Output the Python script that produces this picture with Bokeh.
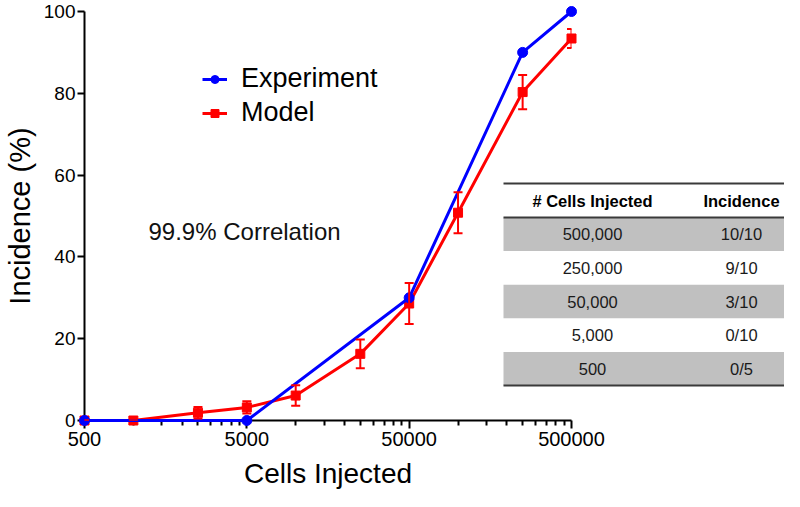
from bokeh.plotting import figure
from bokeh.models import (Range1d, LinearScale, FixedTicker, Whisker, ColumnDataSource,
                          Legend, LegendItem, Label, TeeHead, NumeralTickFormatter)
from bokeh.core.properties import value
from bokeh.embed import file_html
from bokeh.resources import INLINE

# ---------------- data ----------------
exp_cells = [500, 5000, 50000, 250000, 500000]
exp_incidence = [0, 0, 30, 90, 100]

model_cells = [500, 1000, 2500, 5000, 10000, 25000, 50000, 100000, 250000, 500000]
model_incidence = [0, 0, 1.9, 3.2, 6.1, 16.3, 28.6, 50.8, 80.3, 93.4]
model_error = [0, 0, 1.4, 1.5, 2.5, 3.5, 5.0, 5.0, 4.2, 2.3]

x_ticks = [500, 5000, 50000, 500000]
y_ticks = [0, 20, 40, 60, 80, 100]

table_header = ["# Cells Injected", "Incidence"]
table_cells = ["500,000", "250,000", "50,000", "5,000", "500"]
table_incidence = ["10/10", "9/10", "3/10", "0/10", "0/5"]

correlation_text = "99.9% Correlation"

# ---------------- layout ----------------
FONT = "Liberation Sans"
W, H = 784, 491
L, R, T, B = 84, 213, 11, 71
BLUE = "#0000ff"
RED = "#ff0000"

p = figure(width=W, height=H, x_axis_type="log",
           x_range=Range1d(500, 500000), y_range=Range1d(0, 100),
           output_backend="svg", toolbar_location=None,
           min_border_left=L, min_border_right=R, min_border_top=T, min_border_bottom=B)
p.outline_line_color = None
p.xgrid.visible = False
p.ygrid.visible = False
p.background_fill_color = "white"
p.border_fill_color = "white"

minor = [d * k for d in x_ticks[:-1] for k in range(2, 10)]
xa = p.xaxis[0]
xa.ticker = FixedTicker(ticks=x_ticks, minor_ticks=minor)
xa.formatter = NumeralTickFormatter(format="0")
ya = p.yaxis[0]
ya.ticker = FixedTicker(ticks=y_ticks)
ya.formatter = NumeralTickFormatter(format="0")

for ax in (xa, ya):
    ax.axis_line_width = 2
    ax.axis_line_color = "black"
    ax.major_tick_line_width = 2
    ax.minor_tick_line_width = 2
    ax.major_tick_in = 0
    ax.minor_tick_in = 0
    ax.major_label_text_font = FONT
    ax.major_label_text_color = "black"
    ax.axis_label_text_font = FONT
    ax.axis_label_text_font_style = "normal"
    ax.axis_label_text_color = "black"

xa.major_tick_out = 8
xa.minor_tick_out = 5
xa.major_label_text_font_size = "20px"
xa.major_label_standoff = 3
xa.axis_label = "Cells Injected"
xa.axis_label_text_font_size = "28px"
xa.axis_label_standoff = 9

ya.major_tick_out = 7
ya.minor_tick_out = 0
ya.major_label_text_font_size = "19px"
ya.major_label_standoff = 2
ya.axis_label = "Incidence (%)"
ya.axis_label_text_font_size = "29px"
ya.axis_label_standoff = 5

# ---------------- series ----------------
model_src = ColumnDataSource(dict(
    x=model_cells, y=model_incidence,
    upper=[v + e for v, e in zip(model_incidence, model_error)],
    lower=[v - e for v, e in zip(model_incidence, model_error)]))
exp_src = ColumnDataSource(dict(x=exp_cells, y=exp_incidence))

r_mod_line = p.line("x", "y", source=model_src, line_color=RED, line_width=3, level="overlay")
whisk = Whisker(base="x", upper="upper", lower="lower", source=model_src, dimension="height",
                line_color=RED, line_width=2, level="overlay",
                upper_head=TeeHead(size=9, line_color=RED, line_width=2),
                lower_head=TeeHead(size=9, line_color=RED, line_width=2))
p.add_layout(whisk)
r_mod_pts = p.scatter("x", "y", source=model_src, marker="square", size=9,
                      color=RED, level="overlay")

r_exp_line = p.line("x", "y", source=exp_src, line_color=BLUE, line_width=3, level="overlay")
r_exp_pts = p.scatter("x", "y", source=exp_src, marker="circle", size=10,
                      color=BLUE, level="overlay")

legend = Legend(items=[LegendItem(label="Experiment", renderers=[r_exp_line, r_exp_pts]),
                       LegendItem(label="Model", renderers=[r_mod_line, r_mod_pts])],
                location=(118, 292), margin=0, padding=0, spacing=3,
                border_line_color=None, background_fill_alpha=0,
                glyph_width=25, glyph_height=20, label_standoff=14,
                label_text_font=FONT, label_text_font_size="27px", label_text_color="black")
p.add_layout(legend)

p.add_layout(Label(x=64, y=189, x_units="screen", y_units="screen", text=correlation_text,
                   text_font=FONT, text_font_size="24px", text_baseline="middle",
                   text_color="#111111"))

# ---------------- table (pixel coordinates via extra ranges) ----------------
p.extra_x_ranges = {"px": Range1d(L, W - R)}
p.extra_x_scales = {"px": LinearScale()}
p.extra_y_ranges = {"py": Range1d(H - B, T)}
p.extra_y_scales = {"py": LinearScale()}

tbl_left, tbl_right = 503, W
tbl_top, head_h, row_h = 183, 34, 33.6
col_x = [592, 741]
n = len(table_cells)
row_top = [tbl_top + head_h + i * row_h for i in range(n)]
gray = [i for i in range(n) if i % 2 == 0]

p.quad(left=tbl_left, right=tbl_right,
       top=[row_top[i] for i in gray], bottom=[row_top[i] + row_h for i in gray],
       fill_color="#c0c0c0", line_color=None,
       x_range_name="px", y_range_name="py", level="overlay")
line_y = [tbl_top, tbl_top + head_h, tbl_top + head_h + n * row_h]
p.segment(x0=tbl_left, x1=tbl_right, y0=line_y, y1=line_y, line_color="#3a3a3a", line_width=2,
          x_range_name="px", y_range_name="py", level="overlay")
p.text(x=col_x, y=[tbl_top + head_h / 2] * 2, text=table_header,
       text_font=value(FONT), text_font_style="bold", text_font_size="16.5px",
       text_align="center", text_baseline="middle", text_color="black",
       x_range_name="px", y_range_name="py", level="overlay")
row_mid = [t + row_h / 2 for t in row_top]
p.text(x=[col_x[0]] * n + [col_x[1]] * n, y=row_mid + row_mid,
       text=table_cells + table_incidence,
       text_font=value(FONT), text_font_size="16.5px",
       text_align="center", text_baseline="middle", text_color="#1a1a1a",
       x_range_name="px", y_range_name="py", level="overlay")

open("out.html", "w").write(file_html(p, INLINE))
